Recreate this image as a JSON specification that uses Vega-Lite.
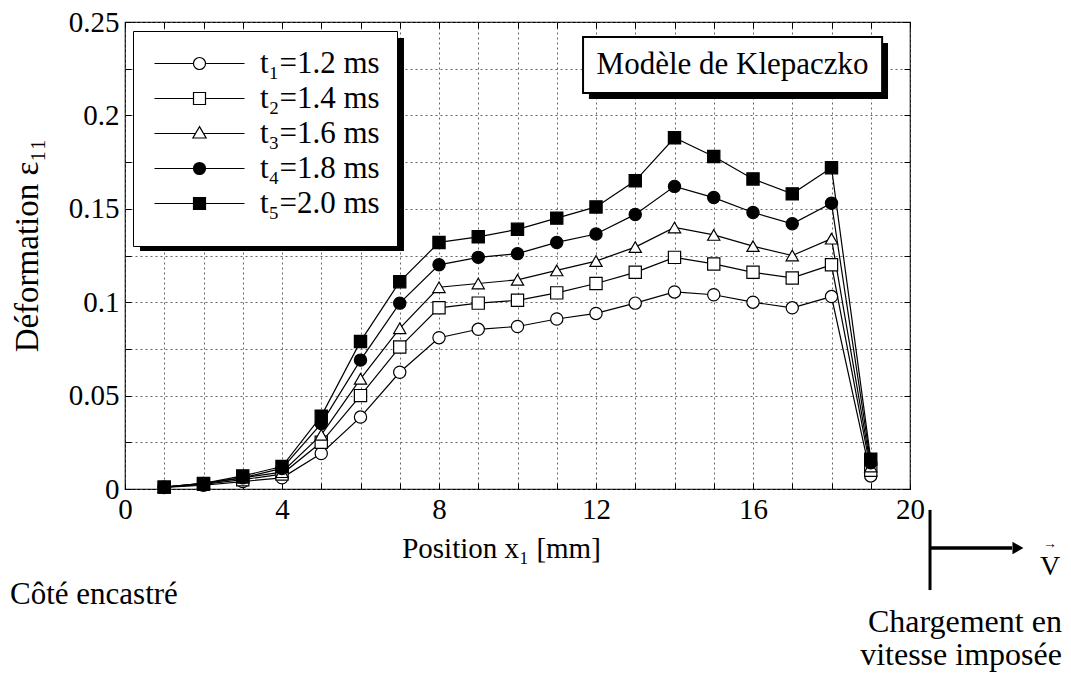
{
  "$schema": "https://vega.github.io/schema/vega-lite/v6.json",
  "width": 785,
  "height": 467,
  "autosize": {"type": "none"},
  "padding": {"left": 125, "top": 22, "right": 161, "bottom": 184},
  "background": "white",
  "config": {
    "font": "Liberation Serif",
    "view": {"stroke": "black", "strokeWidth": 1.2},
    "axis": {"labelFont": "Liberation Serif", "titleFont": "Liberation Serif", "titleFontWeight": "normal", "labelColor": "black", "titleColor": "black"}
  },
  "datasets": {
    "strain": [
      {"x": 1, "eps": 0.0008, "serie": "t₁=1.2 ms"}, {"x": 2, "eps": 0.002, "serie": "t₁=1.2 ms"}, {"x": 3, "eps": 0.004, "serie": "t₁=1.2 ms"}, {"x": 4, "eps": 0.006, "serie": "t₁=1.2 ms"}, {"x": 5, "eps": 0.019, "serie": "t₁=1.2 ms"}, {"x": 6, "eps": 0.0385, "serie": "t₁=1.2 ms"}, {"x": 7, "eps": 0.0625, "serie": "t₁=1.2 ms"}, {"x": 8, "eps": 0.081, "serie": "t₁=1.2 ms"}, {"x": 9, "eps": 0.0855, "serie": "t₁=1.2 ms"}, {"x": 10, "eps": 0.087, "serie": "t₁=1.2 ms"}, {"x": 11, "eps": 0.091, "serie": "t₁=1.2 ms"}, {"x": 12, "eps": 0.094, "serie": "t₁=1.2 ms"}, {"x": 13, "eps": 0.0995, "serie": "t₁=1.2 ms"}, {"x": 14, "eps": 0.1055, "serie": "t₁=1.2 ms"}, {"x": 15, "eps": 0.104, "serie": "t₁=1.2 ms"}, {"x": 16, "eps": 0.1, "serie": "t₁=1.2 ms"}, {"x": 17, "eps": 0.097, "serie": "t₁=1.2 ms"}, {"x": 18, "eps": 0.103, "serie": "t₁=1.2 ms"}, {"x": 19, "eps": 0.007, "serie": "t₁=1.2 ms"},
      {"x": 1, "eps": 0.001, "serie": "t₂=1.4 ms"}, {"x": 2, "eps": 0.0025, "serie": "t₂=1.4 ms"}, {"x": 3, "eps": 0.005, "serie": "t₂=1.4 ms"}, {"x": 4, "eps": 0.008, "serie": "t₂=1.4 ms"}, {"x": 5, "eps": 0.025, "serie": "t₂=1.4 ms"}, {"x": 6, "eps": 0.05, "serie": "t₂=1.4 ms"}, {"x": 7, "eps": 0.076, "serie": "t₂=1.4 ms"}, {"x": 8, "eps": 0.097, "serie": "t₂=1.4 ms"}, {"x": 9, "eps": 0.0995, "serie": "t₂=1.4 ms"}, {"x": 10, "eps": 0.101, "serie": "t₂=1.4 ms"}, {"x": 11, "eps": 0.105, "serie": "t₂=1.4 ms"}, {"x": 12, "eps": 0.11, "serie": "t₂=1.4 ms"}, {"x": 13, "eps": 0.116, "serie": "t₂=1.4 ms"}, {"x": 14, "eps": 0.124, "serie": "t₂=1.4 ms"}, {"x": 15, "eps": 0.1205, "serie": "t₂=1.4 ms"}, {"x": 16, "eps": 0.116, "serie": "t₂=1.4 ms"}, {"x": 17, "eps": 0.113, "serie": "t₂=1.4 ms"}, {"x": 18, "eps": 0.12, "serie": "t₂=1.4 ms"}, {"x": 19, "eps": 0.01, "serie": "t₂=1.4 ms"},
      {"x": 1, "eps": 0.001, "serie": "t₃=1.6 ms"}, {"x": 2, "eps": 0.003, "serie": "t₃=1.6 ms"}, {"x": 3, "eps": 0.006, "serie": "t₃=1.6 ms"}, {"x": 4, "eps": 0.009, "serie": "t₃=1.6 ms"}, {"x": 5, "eps": 0.029, "serie": "t₃=1.6 ms"}, {"x": 6, "eps": 0.059, "serie": "t₃=1.6 ms"}, {"x": 7, "eps": 0.086, "serie": "t₃=1.6 ms"}, {"x": 8, "eps": 0.108, "serie": "t₃=1.6 ms"}, {"x": 9, "eps": 0.11, "serie": "t₃=1.6 ms"}, {"x": 10, "eps": 0.112, "serie": "t₃=1.6 ms"}, {"x": 11, "eps": 0.117, "serie": "t₃=1.6 ms"}, {"x": 12, "eps": 0.122, "serie": "t₃=1.6 ms"}, {"x": 13, "eps": 0.1295, "serie": "t₃=1.6 ms"}, {"x": 14, "eps": 0.14, "serie": "t₃=1.6 ms"}, {"x": 15, "eps": 0.136, "serie": "t₃=1.6 ms"}, {"x": 16, "eps": 0.13, "serie": "t₃=1.6 ms"}, {"x": 17, "eps": 0.125, "serie": "t₃=1.6 ms"}, {"x": 18, "eps": 0.134, "serie": "t₃=1.6 ms"}, {"x": 19, "eps": 0.012, "serie": "t₃=1.6 ms"},
      {"x": 1, "eps": 0.001, "serie": "t₄=1.8 ms"}, {"x": 2, "eps": 0.003, "serie": "t₄=1.8 ms"}, {"x": 3, "eps": 0.006, "serie": "t₄=1.8 ms"}, {"x": 4, "eps": 0.011, "serie": "t₄=1.8 ms"}, {"x": 5, "eps": 0.035, "serie": "t₄=1.8 ms"}, {"x": 6, "eps": 0.069, "serie": "t₄=1.8 ms"}, {"x": 7, "eps": 0.0995, "serie": "t₄=1.8 ms"}, {"x": 8, "eps": 0.12, "serie": "t₄=1.8 ms"}, {"x": 9, "eps": 0.124, "serie": "t₄=1.8 ms"}, {"x": 10, "eps": 0.126, "serie": "t₄=1.8 ms"}, {"x": 11, "eps": 0.132, "serie": "t₄=1.8 ms"}, {"x": 12, "eps": 0.1365, "serie": "t₄=1.8 ms"}, {"x": 13, "eps": 0.147, "serie": "t₄=1.8 ms"}, {"x": 14, "eps": 0.162, "serie": "t₄=1.8 ms"}, {"x": 15, "eps": 0.156, "serie": "t₄=1.8 ms"}, {"x": 16, "eps": 0.148, "serie": "t₄=1.8 ms"}, {"x": 17, "eps": 0.142, "serie": "t₄=1.8 ms"}, {"x": 18, "eps": 0.153, "serie": "t₄=1.8 ms"}, {"x": 19, "eps": 0.014, "serie": "t₄=1.8 ms"},
      {"x": 1, "eps": 0.001, "serie": "t₅=2.0 ms"}, {"x": 2, "eps": 0.003, "serie": "t₅=2.0 ms"}, {"x": 3, "eps": 0.007, "serie": "t₅=2.0 ms"}, {"x": 4, "eps": 0.012, "serie": "t₅=2.0 ms"}, {"x": 5, "eps": 0.039, "serie": "t₅=2.0 ms"}, {"x": 6, "eps": 0.079, "serie": "t₅=2.0 ms"}, {"x": 7, "eps": 0.111, "serie": "t₅=2.0 ms"}, {"x": 8, "eps": 0.132, "serie": "t₅=2.0 ms"}, {"x": 9, "eps": 0.135, "serie": "t₅=2.0 ms"}, {"x": 10, "eps": 0.139, "serie": "t₅=2.0 ms"}, {"x": 11, "eps": 0.145, "serie": "t₅=2.0 ms"}, {"x": 12, "eps": 0.151, "serie": "t₅=2.0 ms"}, {"x": 13, "eps": 0.165, "serie": "t₅=2.0 ms"}, {"x": 14, "eps": 0.188, "serie": "t₅=2.0 ms"}, {"x": 15, "eps": 0.178, "serie": "t₅=2.0 ms"}, {"x": 16, "eps": 0.166, "serie": "t₅=2.0 ms"}, {"x": 17, "eps": 0.158, "serie": "t₅=2.0 ms"}, {"x": 18, "eps": 0.172, "serie": "t₅=2.0 ms"}, {"x": 19, "eps": 0.016, "serie": "t₅=2.0 ms"}
    ]
  },
  "layer": [
    {
      "data": {"name": "strain"},
      "mark": {"type": "line", "color": "black", "strokeWidth": 1.2},
      "encoding": {
        "x": {"field": "x", "type": "quantitative", "scale": {"domain": [0, 20], "nice": false},
          "axis": {"orient": "bottom", "values": [0,1,2,3,4,5,6,7,8,9,10,11,12,13,14,15,16,17,18,19,20], "labelExpr": "datum.value % 4 == 0 ? datum.label : ''", "grid": true, "gridDash": [2, 3], "gridColor": "#555", "gridWidth": 0.9, "domain": false, "tickSize": -6, "tickColor": "black", "labelFontSize": 29, "labelPadding": 12, "labelFlush": false, "title": "Position x₁ [mm]", "titleFontSize": 29, "titlePadding": 10, "titleX": 376}},
        "y": {"field": "eps", "type": "quantitative", "scale": {"domain": [0, 0.25], "nice": false},
          "axis": {"orient": "left", "values": [0, 0.025, 0.05, 0.075, 0.1, 0.125, 0.15, 0.175, 0.2, 0.225, 0.25], "labelExpr": "abs(datum.value * 20 - round(datum.value * 20)) < 0.000001 ? format(datum.value, '~g') : ''", "grid": true, "gridDash": [2, 3], "gridColor": "#555", "gridWidth": 0.9, "domain": false, "tickSize": -6, "tickColor": "black", "labelFontSize": 29, "labelPadding": 12, "labelFlush": false, "title": "Déformation ε₁₁", "titleFontSize": 33, "titlePadding": 24, "titleY": 223}},
        "detail": {"field": "serie"}
      }
    },
    {
      "data": {"name": "strain"},
      "mark": {"type": "point", "stroke": "black", "strokeWidth": 1.2, "size": 150, "opacity": 1},
      "encoding": {
        "x": {"field": "x", "type": "quantitative", "scale": {"domain": [0, 20], "nice": false}, "axis": null},
        "y": {"field": "eps", "type": "quantitative", "scale": {"domain": [0, 0.25], "nice": false}, "axis": null},
        "shape": {"field": "serie", "type": "nominal", "scale": {"domain": ["t₁=1.2 ms", "t₂=1.4 ms", "t₃=1.6 ms", "t₄=1.8 ms", "t₅=2.0 ms"], "range": ["circle", "square", "triangle-up", "circle", "square"]}, "legend": null},
        "fill": {"field": "serie", "type": "nominal", "scale": {"domain": ["t₁=1.2 ms", "t₂=1.4 ms", "t₃=1.6 ms", "t₄=1.8 ms", "t₅=2.0 ms"], "range": ["white", "white", "white", "black", "black"]}, "legend": null}
      }
    },
    {
      "data": {"values": [{}]},
      "mark": {"type": "rect", "color": "black"},
      "encoding": {
        "x": {"datum": 0.382, "type": "quantitative", "scale": {"domain": [0, 20], "nice": false}, "axis": null},
        "x2": {"datum": 7.108},
        "y": {"datum": 0.2414, "type": "quantitative", "scale": {"domain": [0, 0.25], "nice": false}, "axis": null},
        "y2": {"datum": 0.1274}
      }
    },
    {
      "data": {"values": [{}]},
      "mark": {"type": "rect", "color": "black"},
      "encoding": {
        "x": {"datum": 11.82, "type": "quantitative", "scale": {"domain": [0, 20], "nice": false}, "axis": null},
        "x2": {"datum": 19.44},
        "y": {"datum": 0.2388, "type": "quantitative", "scale": {"domain": [0, 0.25], "nice": false}, "axis": null},
        "y2": {"datum": 0.2088}
      }
    },
    {
      "data": {"values": [{}]},
      "mark": {"type": "rect", "fill": "white", "stroke": "black", "strokeWidth": 2},
      "encoding": {
        "x": {"datum": 11.67, "type": "quantitative", "scale": {"domain": [0, 20], "nice": false}, "axis": null},
        "x2": {"datum": 19.29},
        "y": {"datum": 0.242, "type": "quantitative", "scale": {"domain": [0, 0.25], "nice": false}, "axis": null},
        "y2": {"datum": 0.212}
      }
    },
    {
      "data": {"values": [{"t": "Modèle de Klepaczko"}]},
      "mark": {"type": "text", "fontSize": 31, "font": "Liberation Serif", "color": "black", "align": "center", "baseline": "middle"},
      "encoding": {
        "x": {"datum": 15.48, "type": "quantitative", "scale": {"domain": [0, 20], "nice": false}, "axis": null},
        "y": {"datum": 0.227, "type": "quantitative", "scale": {"domain": [0, 0.25], "nice": false}, "axis": null},
        "text": {"field": "t"}
      }
    },
    {
      "data": {"values": [{"t": "Côté encastré"}]},
      "mark": {"type": "text", "fontSize": 31, "font": "Liberation Serif", "color": "black", "align": "left", "baseline": "middle"},
      "encoding": {
        "x": {"datum": -2.93, "type": "quantitative", "scale": {"domain": [0, 20], "nice": false}, "axis": null},
        "y": {"datum": -0.0567, "type": "quantitative", "scale": {"domain": [0, 0.25], "nice": false}, "axis": null},
        "text": {"field": "t"}
      }
    },
    {
      "data": {"values": [{"t": "Chargement en", "yy": -0.0712}, {"t": "vitesse imposée", "yy": -0.0889}]},
      "mark": {"type": "text", "fontSize": 32, "font": "Liberation Serif", "color": "black", "align": "right", "baseline": "middle"},
      "encoding": {
        "x": {"datum": 23.87, "type": "quantitative", "scale": {"domain": [0, 20], "nice": false}, "axis": null},
        "y": {"field": "yy", "type": "quantitative", "scale": {"domain": [0, 0.25], "nice": false}, "axis": null},
        "text": {"field": "t"}
      }
    },
    {
      "data": {"values": [{}]},
      "mark": {"type": "rule", "color": "black", "strokeWidth": 3},
      "encoding": {
        "x": {"datum": 20.51, "type": "quantitative", "scale": {"domain": [0, 20], "nice": false}, "axis": null},
        "y": {"datum": -0.0112, "type": "quantitative", "scale": {"domain": [0, 0.25], "nice": false}, "axis": null},
        "y2": {"datum": -0.0541}
      }
    },
    {
      "data": {"values": [{}]},
      "mark": {"type": "rule", "color": "black", "strokeWidth": 3.5},
      "encoding": {
        "x": {"datum": 20.51, "type": "quantitative", "scale": {"domain": [0, 20], "nice": false}, "axis": null},
        "x2": {"datum": 22.6},
        "y": {"datum": -0.0316, "type": "quantitative", "scale": {"domain": [0, 0.25], "nice": false}, "axis": null}
      }
    },
    {
      "data": {"values": [{}]},
      "mark": {"type": "point", "shape": "triangle-right", "filled": true, "color": "black", "size": 160, "opacity": 1},
      "encoding": {
        "x": {"datum": 22.75, "type": "quantitative", "scale": {"domain": [0, 20], "nice": false}, "axis": null},
        "y": {"datum": -0.0316, "type": "quantitative", "scale": {"domain": [0, 0.25], "nice": false}, "axis": null}
      }
    },
    {
      "data": {"values": [{"t": "V", "yy": -0.0415, "fs": 28}, {"t": "→", "yy": -0.0295, "fs": 14}]},
      "mark": {"type": "text", "font": "Liberation Serif", "color": "black", "align": "center", "baseline": "middle"},
      "encoding": {
        "x": {"datum": 23.57, "type": "quantitative", "scale": {"domain": [0, 20], "nice": false}, "axis": null},
        "y": {"field": "yy", "type": "quantitative", "scale": {"domain": [0, 0.25], "nice": false}, "axis": null},
        "text": {"field": "t"},
        "size": {"field": "fs", "type": "quantitative", "scale": null, "legend": null}
      }
    },
    {
      "data": {"name": "strain"},
      "transform": [{"filter": "false"}],
      "mark": {"type": "point", "stroke": "black", "strokeWidth": 1.2, "opacity": 1},
      "encoding": {
        "x": {"field": "x", "type": "quantitative", "scale": {"domain": [0, 20], "nice": false},
          "axis": {"orient": "top", "values": [0,1,2,3,4,5,6,7,8,9,10,11,12,13,14,15,16,17,18,19,20], "labels": false, "grid": false, "domain": false, "tickSize": -6, "tickColor": "black", "title": null}},
        "y": {"field": "eps", "type": "quantitative", "scale": {"domain": [0, 0.25], "nice": false},
          "axis": {"orient": "right", "values": [0, 0.025, 0.05, 0.075, 0.1, 0.125, 0.15, 0.175, 0.2, 0.225, 0.25], "labels": false, "grid": false, "domain": false, "tickSize": -6, "tickColor": "black", "title": null}},
        "shape": {"field": "serie", "type": "nominal", "scale": {"domain": ["t₁=1.2 ms", "t₂=1.4 ms", "t₃=1.6 ms", "t₄=1.8 ms", "t₅=2.0 ms"], "range": [
            "M1,0A1,1,0,1,1,-1,0A1,1,0,1,1,1,0Z M-7.5,0H-1 M1,0H7.5",
            "M-1,-1H1V1H-1Z M-7.5,0H-1 M1,0H7.5",
            "M0,-1.15L1.1,0.75H-1.1Z M-7.5,0H-0.62 M0.62,0H7.5",
            "M-7.5,0H7.5 M1,0A1,1,0,1,1,-1,0A1,1,0,1,1,1,0 M0.85,0A0.85,0.85,0,1,1,-0.85,0A0.85,0.85,0,1,1,0.85,0 M0.7,0A0.7,0.7,0,1,1,-0.7,0A0.7,0.7,0,1,1,0.7,0 M0.55,0A0.55,0.55,0,1,1,-0.55,0A0.55,0.55,0,1,1,0.55,0 M0.4,0A0.4,0.4,0,1,1,-0.4,0A0.4,0.4,0,1,1,0.4,0 M0.25,0A0.25,0.25,0,1,1,-0.25,0A0.25,0.25,0,1,1,0.25,0 M0.1,0A0.1,0.1,0,1,1,-0.1,0A0.1,0.1,0,1,1,0.1,0",
            "M-7.5,0H7.5 M-1,-1H1V1H-1Z M-0.85,-0.85H0.85V0.85H-0.85Z M-0.7,-0.7H0.7V0.7H-0.7Z M-0.55,-0.55H0.55V0.55H-0.55Z M-0.4,-0.4H0.4V0.4H-0.4Z M-0.25,-0.25H0.25V0.25H-0.25Z M-0.1,-0.1H0.1V0.1H-0.1Z"
          ]},
          "legend": {"orient": "none", "legendX": 8, "legendY": 9, "title": " ", "titleOrient": "bottom", "titleFontSize": 9, "titlePadding": 1, "fillColor": "white", "strokeColor": "black", "padding": 17, "labelFont": "Liberation Serif", "labelFontSize": 31, "labelColor": "black", "symbolSize": 144, "symbolStrokeWidth": 1.2, "symbolStrokeColor": "black", "symbolOffset": 34, "labelOffset": 45, "rowPadding": 3, "labelLimit": 300,
            "encode": {"legend": {"update": {"strokeWidth": {"value": 2.5}}}}}}
      }
    }
  ],
  "resolve": {
    "scale": {"shape": "independent", "fill": "independent", "size": "independent"},
    "axis": {"x": "independent", "y": "independent"},
    "legend": {"shape": "independent", "fill": "independent"}
  }
}
